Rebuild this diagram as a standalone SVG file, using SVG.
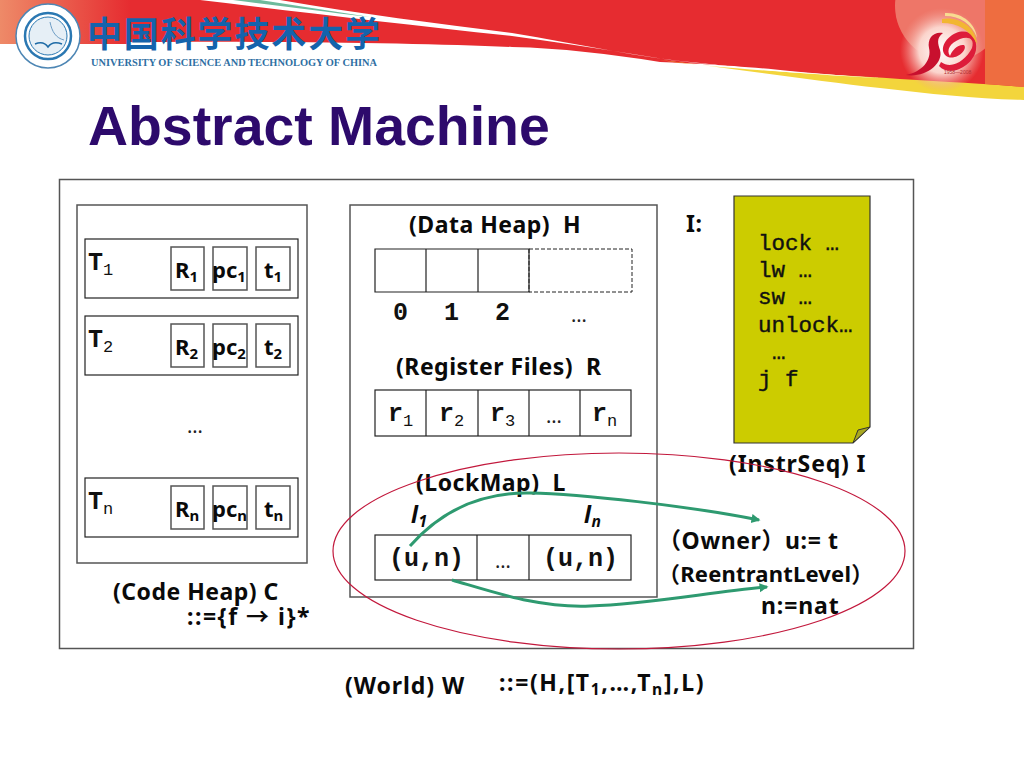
<svg xmlns="http://www.w3.org/2000/svg" width="1024" height="768" viewBox="0 0 1024 768">
<style>
.b{fill:none;stroke:#555;stroke-width:1.5}
.k{fill:#fff;stroke:#222;stroke-width:1.2}
.t{font-family:"Noto Sans","Noto Sans CJK SC",sans-serif;font-weight:700;font-size:23px;letter-spacing:.5px;fill:#0a0a0a}
.q{font-family:"Noto Sans",sans-serif;font-weight:700;font-size:22px;fill:#0a0a0a}
.m{font-family:"Liberation Mono",monospace;font-weight:700;font-size:25px;fill:#111}
.c{font-family:"Liberation Mono",monospace;font-weight:400;font-size:22.500px;fill:#111;stroke:#111;stroke-width:.4}
.d{font-family:"Noto Sans",sans-serif;font-size:20px;fill:#222}
.g{fill:none;stroke:#2e9a70;stroke-width:3}
.s{font-size:.68em}
</style>
<defs>
<linearGradient id="lg" x1="0" x2="1" y1="0" y2="0"><stop offset="0" stop-color="#ee8a68"/><stop offset="1" stop-color="#e62c30"/></linearGradient>
<radialGradient id="gl"><stop offset="0" stop-color="#fff"/><stop offset=".55" stop-color="#fbd4cc"/><stop offset="1" stop-color="#f09a90" stop-opacity="0"/></radialGradient>
<marker id="ah" markerWidth="4" markerHeight="4" refX="2.500" refY="1.500" orient="auto"><path d="M0 0L3 1.500L0 3Z" fill="#2e9a70"/></marker>
</defs>
<rect width="1024" height="768" fill="#fff"/>
<g id="banner">
<path d="M0 0H1024V88C930 84 880 79 790 71C730 65 700 64 660 62C610 54 560 48 512 47C400 42 200 40 0 44Z" fill="#e62c30"/>
<path d="M0 0H130V44H0Z" fill="url(#lg)"/>
<path d="M660 60C730 70 820 74 900 79C950 82 990 84 1024 87V100C980 99 930 94 880 88C810 80 730 68 660 60Z" fill="#f3d53c"/>
<path d="M200 0H280C360 14 440 24 512 33C580 44 640 58 700 63C760 70 820 74 880 78C800 74 740 68 670 60C620 52 570 44 512 36C400 24 300 12 200 0Z" fill="#fff"/>
<path d="M233 0H260L370 17C320 11 280 6 233 0Z" fill="#6dbb9c"/>
<circle cx="950" cy="6" r="55" fill="#ee7668"/>
<path d="M985 0H1024V87L985 84Z" fill="#ee6d40"/>
<circle cx="942" cy="50" r="42" fill="url(#gl)"/>
</g>
<g id="logo50">
<path d="M906 75C922 72 932 60 929 48C927 38 934 31 943 33C936 38 938 44 940 50C944 64 925 78 906 75Z" fill="#c8102e"/>
<path d="M941 62C952 70 966 60 972 48C975 38 968 36 960 39C950 43 946 50 950 56C952 50 958 44 964 45C968 49 958 60 948 57C938 52 944 38 956 33C968 28 978 36 976 50C973 66 950 78 939 66Z" fill="#dd1c3a"/>
<path d="M942 19C958 16 976 26 977 44C970 30 958 23 942 23Z" fill="#f2b632"/>
<path d="M945 13C962 12 976 24 977 38C972 24 960 16 945 16Z" fill="#f8dc90"/>
<text x="944" y="74" font-family="'Liberation Sans',sans-serif" font-size="5" fill="#b03030">1958—2008</text>
</g>
<g id="seal">
<circle cx="48" cy="36" r="32" fill="#fff" stroke="#4d86b4" stroke-width="1.5"/>
<circle cx="48" cy="36" r="23" fill="#fff" stroke="#2b78b2" stroke-width="2.500"/>
<circle cx="48" cy="36" r="19" fill="#e6eff6" stroke="#2b78b2"/>
<path d="M35 44C42 41 46 44 48 47C50 44 54 41 62 44" fill="none" stroke="#1d6aa6" stroke-width="1.500"/>
<path d="M50 22C52 32 56 38 64 40" fill="none" stroke="#6c9cc4"/>
</g>
<g id="school">
<text x="87" y="47" font-family="'Noto Sans CJK SC',sans-serif" font-weight="700" font-size="35" fill="#1463ac" textLength="293" lengthAdjust="spacing">中国科学技术大学</text>
<text x="91" y="66" font-family="'Liberation Serif',serif" font-weight="700" font-size="10.500" fill="#2f6fa3" textLength="286" lengthAdjust="spacingAndGlyphs">UNIVERSITY OF SCIENCE AND TECHNOLOGY OF CHINA</text>
</g>
<text id="title" x="88" y="145" font-family="'Liberation Sans',sans-serif" font-weight="700" font-size="55.400" fill="#2d0a6c">Abstract Machine</text>
<rect id="world" class="b" x="59.500" y="179.500" width="854" height="469" fill="#fff"/>
<g id="codeheap">
<rect class="b" x="77" y="205" width="230" height="358"/>
<text class="t" x="113" y="600">(Code Heap) C<tspan x="187" dy="25" style="letter-spacing:1.500px">::={f → i}*</tspan></text>
<text class="d" x="187" y="433">…</text>
</g>
<g id="thread1">
<rect class="k" x="85" y="239" width="213" height="59"/>
<text class="m" x="88" y="270">T<tspan class="s" font-weight="400" dy="5">1</tspan></text>
<rect class="b" x="171" y="247" width="33" height="43"/><rect class="b" x="213" y="247" width="34" height="43"/><rect class="b" x="256" y="247" width="34" height="43"/>
<text class="q" x="175" y="278">R<tspan class="s" dy="4">1</tspan></text>
<text class="q" x="212" y="278">pc<tspan class="s" dy="4">1</tspan></text>
<text class="q" x="264" y="278">t<tspan class="s" dy="4">1</tspan></text>
</g>
<g id="thread2">
<rect class="k" x="85" y="316" width="213" height="59"/>
<text class="m" x="88" y="347">T<tspan class="s" font-weight="400" dy="5">2</tspan></text>
<rect class="b" x="171" y="324" width="33" height="43"/><rect class="b" x="213" y="324" width="34" height="43"/><rect class="b" x="256" y="324" width="34" height="43"/>
<text class="q" x="175" y="355">R<tspan class="s" dy="4">2</tspan></text>
<text class="q" x="212" y="355">pc<tspan class="s" dy="4">2</tspan></text>
<text class="q" x="264" y="355">t<tspan class="s" dy="4">2</tspan></text>
</g>
<g id="threadn">
<rect class="k" x="85" y="478" width="213" height="59"/>
<text class="m" x="88" y="509">T<tspan class="s" font-weight="400" dy="5">n</tspan></text>
<rect class="b" x="171" y="486" width="33" height="43"/><rect class="b" x="213" y="486" width="34" height="43"/><rect class="b" x="256" y="486" width="34" height="43"/>
<text class="q" x="175" y="517">R<tspan class="s" dy="4">n</tspan></text>
<text class="q" x="212" y="517">pc<tspan class="s" dy="4">n</tspan></text>
<text class="q" x="264" y="517">t<tspan class="s" dy="4">n</tspan></text>
</g>
<g id="panel">
<rect class="b" x="350" y="205" width="307" height="392"/>
<text class="t" x="409" y="233">(Data Heap)&#160;&#160;H</text>
<text class="t" x="396" y="375">(Register Files)&#160;&#160;R</text>
<text class="t" x="416" y="491">(LockMap)&#160;&#160;L</text>
</g>
<g id="dataheap">
<path d="M426 249H375V292H426ZM426 249H478V292H426ZM478 249H529V292H478Z" class="k"/>
<path d="M529 249H632V292H529Z" fill="none" stroke="#222" stroke-width="1" stroke-dasharray="4 2"/>
<text class="m" x="393" y="320">0</text><text class="m" x="444" y="320">1</text><text class="m" x="495" y="320">2</text>
<text class="d" x="571" y="322">…</text>
</g>
<g id="registers">
<rect class="k" x="375" y="390" width="256" height="46"/>
<path d="M426 390V436M478 390V436M529 390V436M580 390V436" stroke="#222" stroke-width="1.200"/>
<text class="m" x="388" y="421">r<tspan class="s" font-weight="400" dy="5">1</tspan></text>
<text class="m" x="439" y="421">r<tspan class="s" font-weight="400" dy="5">2</tspan></text>
<text class="m" x="490" y="421">r<tspan class="s" font-weight="400" dy="5">3</tspan></text>
<text class="d" x="546" y="423">…</text>
<text class="m" x="592" y="421">r<tspan class="s" font-weight="400" dy="5">n</tspan></text>
</g>
<g id="lockmap">
<rect class="k" x="375" y="535" width="256" height="45"/>
<path d="M477 535V580M529 535V580" stroke="#222" stroke-width="1.200"/>
<text class="m" x="389" y="566">(u,n)</text>
<text class="d" x="495" y="568">…</text>
<text class="m" x="543" y="566">(u,n)</text>
<text class="t" x="411" y="523" font-style="italic">l<tspan class="s" dy="4">1</tspan></text>
<text class="t" x="584" y="523" font-style="italic">l<tspan class="s" dy="4">n</tspan></text>
</g>
<g id="instrseq">
<text class="t" x="686" y="232">I:</text>
<path d="M734 196H870V427L853 443H734Z" fill="#cccc00" stroke="#333" stroke-width="1.200"/>
<path d="M853 443L858 430L870 427Z" fill="#a8a820" stroke="#333" stroke-width="1"/>
<text class="c" x="758" y="250">lock …</text>
<text class="c" x="758" y="277">lw …</text>
<text class="c" x="758" y="304">sw …</text>
<text class="c" x="758" y="332">unlock…</text>
<text class="c" x="772" y="359">…</text>
<text class="c" x="758" y="386">j f</text>
<text class="t" x="729" y="472" style="letter-spacing:.85px">(InstrSeq) I</text>
</g>
<g id="lockinfo">
<text class="t" x="658" y="549" style="letter-spacing:.6px">（Owner）u:= t</text>
<text class="t" x="658" y="582" style="font-size:22px;letter-spacing:.2px">（ReentrantLevel）</text>
<text class="t" x="761" y="614" style="letter-spacing:.9px">n:=nat</text>
</g>
<g id="connectors">
<ellipse cx="619" cy="551" rx="286" ry="98" fill="none" stroke="#c2183c" stroke-width="1.200"/>
<path class="g" marker-end="url(#ah)" d="M410 546C440 512 480 492 530 493C580 494 690 506 759 520"/>
<path class="g" marker-end="url(#ah)" d="M452 580C500 594 540 608 590 606C650 604 710 592 767 587"/>
</g>
<g id="worldlabel">
<text class="t" x="345" y="694" style="letter-spacing:.95px">(World) W</text>
<text class="t" x="499" y="691" style="letter-spacing:1.600px">::=(H,[T<tspan class="s" dy="4">1</tspan><tspan dy="-4">,…,T</tspan><tspan class="s" dy="4">n</tspan><tspan dy="-4">],L)</tspan></text>
</g>
</svg>
